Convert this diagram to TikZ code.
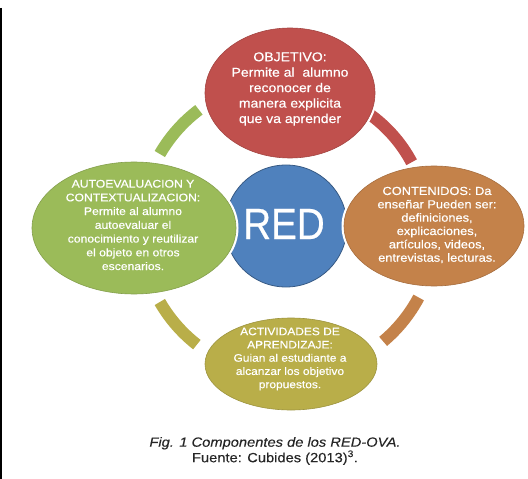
\documentclass[tikz,border=0pt]{standalone}
\usepackage{fontspec}
\usepackage{graphicx}
\setmainfont{Liberation Sans}[FakeStretch=1.1, FakeBold=0.5]
\newfontfamily\redfont{Liberation Sans}[FakeBold=0.5]
\newfontfamily\piefont{Liberation Sans}[FakeStretch=1.1, FakeBold=0.2]
\usetikzlibrary{shapes.geometric}
\definecolor{rojo}{HTML}{C0504D}
\definecolor{azul}{HTML}{4F81BD}
\definecolor{verde}{HTML}{9BBB59}
\definecolor{naranja}{HTML}{C4824A}
\definecolor{oliva}{HTML}{B9AE49}
\tikzset{
  blob/.style={ellipse, fill=#1, draw=#1!85!black, line width=0.6bp,
    preaction={draw=white, line width=5bp}, inner sep=0pt},
  txt/.style={text=white, align=center, inner sep=0pt},
  ring/.style={draw=#1, line width=12bp},
}
\begin{document}
\begin{tikzpicture}[x=1bp,y=-1bp]
\useasboundingbox (0,0) rectangle (528,479);

\coordinate (c) at (288,228);
\draw[ring=verde] ([shift={(127:148bp)}]c) arc[start angle=127, end angle=150, radius=148bp];
\draw[ring=rojo] ([shift={(28:140bp)}]c) arc[start angle=28, end angle=57, radius=140bp];
\draw[ring=naranja] ([shift={(-50:148bp)}]c) arc[start angle=-50, end angle=-28, radius=148bp];
\draw[ring=oliva] ([shift={(210:148bp)}]c) arc[start angle=210, end angle=232, radius=148bp];

\node[circle, fill=azul, draw=azul!70!black, line width=0.8bp, minimum size=122bp] (red) at (286,226) {};
\node[blob=rojo, minimum width=170bp, minimum height=130bp] (obj) at (290,93) {};
\node[blob=verde, minimum width=204bp, minimum height=132bp] (auto) at (134,228) {};
\node[blob=naranja, minimum width=180bp, minimum height=120bp] (cont) at (434,226) {};
\node[blob=oliva, minimum width=172bp, minimum height=92bp] (act) at (291,364) {};

\node[txt, font=\redfont\fontsize{44}{44}\selectfont] (redtxt) at (284,224) {\scalebox{0.88}[1]{RED}};
\node[txt, font=\fontsize{12.8}{15.5}\selectfont] (objtxt) at (290,89)
  {OBJETIVO:\\Permite al\ \ alumno\\reconocer de\\manera explicita\\que va aprender};
\node[txt, font=\fontsize{11.1}{13.8}\selectfont] (autotxt) at (133,225)
  {AUTOEVALUACION Y\\CONTEXTUALIZACION:\\Permite al alumno\\autoevaluar el\\conocimiento y reutilizar\\el objeto en otros\\escenarios.};
\node[txt, font=\fontsize{11.7}{13.4}\selectfont] (conttxt) at (437,225)
  {CONTENIDOS: Da\\enseñar Pueden ser:\\definiciones,\\explicaciones,\\artículos, videos,\\entrevistas, lecturas.};
\node[txt, font=\fontsize{10.9}{13.3}\selectfont] (acttxt) at (290,359)
  {ACTIVIDADES DE\\APRENDIZAJE:\\Guian al estudiante a\\alcanzar los objetivo\\propuestos.};

\node[align=center, inner sep=0pt, text=black!85, font=\piefont\fontsize{13.4}{14.5}\selectfont] (pie) at (275,451)
  {{\itshape Fig. 1 Componentes de los RED-OVA.}\\Fuente: Cubides (2013)\textsuperscript{3}.};

\draw[line width=1.5bp] (1,8) -- (1,479);
\end{tikzpicture}
\end{document}
